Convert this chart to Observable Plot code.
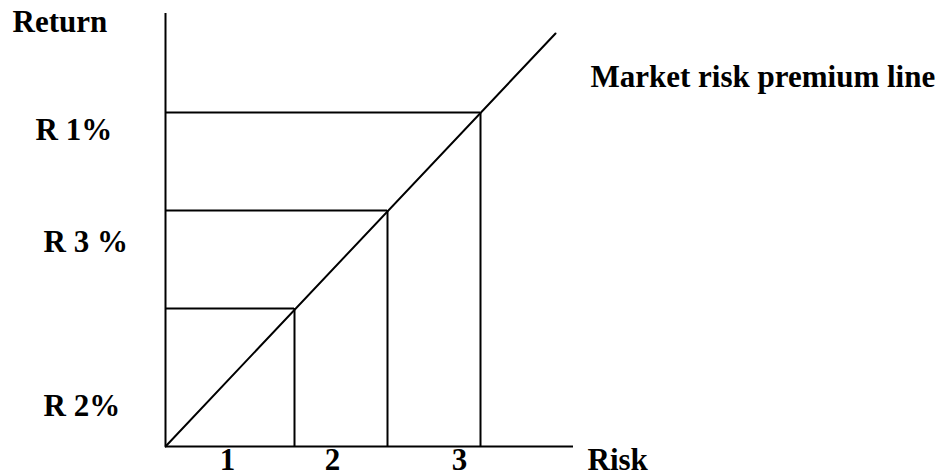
<!DOCTYPE html>
<html>
<head>
<meta charset="utf-8">
<script src="https://cdn.jsdelivr.net/npm/d3@7"></script>
<script src="https://cdn.jsdelivr.net/npm/@observablehq/plot@0.6"></script>
<style>
  html, body { margin: 0; padding: 0; background: #fff; }
  svg text { font-family: "Times New Roman", "Liberation Serif", Tinos, "DejaVu Serif", serif !important; }
</style>
</head>
<body>
<div id="chart"></div>
<script>
// Risk levels (x) and matching return levels (y) on the market risk premium line
const riskLevels = [1.29, 2.22, 3.15];
const returnLevels = [1.38, 2.36, 3.34];
const lineEndRisk = 3.90;
const lineEndReturn = 4.13;
const riskTickLabels = ["1", "2", "3"];
const riskTickValues = [0.62, 1.67, 2.94];
const returnLabels = ["R 2%", "R 3 %", "R 1%"];
const returnLabelValues = [0.31, 1.95, 3.07];
const returnLabelOffsets = [-1.22, -1.22, -1.30];

const points = riskLevels.map((r, i) => ({risk: r, ret: returnLevels[i]}));
const diag = [{risk: 0, ret: 0}, {risk: lineEndRisk, ret: lineEndReturn}];
const ticks = riskTickLabels.map((t, i) => ({label: t, risk: riskTickValues[i]}));
const rlabels = returnLabels.map((t, i) => ({label: t, ret: returnLabelValues[i], risk: returnLabelOffsets[i]}));

const font = {fontSize: 31, fontWeight: "bold", fontFamily: "Times New Roman, Liberation Serif, serif", fill: "black", lineAnchor: "bottom"};

const chart = Plot.plot({
  width: 947,
  height: 476,
  marginLeft: 165,
  marginRight: 374,
  marginTop: 13,
  marginBottom: 30,
  x: {domain: [0, 4.08], axis: null},
  y: {domain: [0, 4.33], axis: null},
  style: {background: "white", overflow: "visible"},
  marks: [
    // axes
    Plot.ruleX([0], {y1: 0, y2: 4.33, stroke: "black", strokeWidth: 2}),
    Plot.ruleY([0], {x1: 0, x2: 4.08, stroke: "black", strokeWidth: 2}),
    // horizontal guides
    Plot.ruleY(points, {y: "ret", x1: 0, x2: "risk", stroke: "black", strokeWidth: 2}),
    // vertical guides
    Plot.ruleX(points, {x: "risk", y1: 0, y2: "ret", stroke: "black", strokeWidth: 2}),
    // market risk premium line
    Plot.line(diag, {x: "risk", y: "ret", stroke: "black", strokeWidth: 2}),
    // tick labels
    Plot.text(ticks, {x: "risk", y: -0.235, text: "label", textAnchor: "middle", ...font}),
    Plot.text(rlabels, {x: "risk", y: "ret", text: "label", textAnchor: "start", ...font}),
    Plot.text(["Return"], {x: -1.53, y: 4.15, text: d => d, textAnchor: "start", ...font}),
    Plot.text(["Risk"], {x: 4.22, y: -0.23, text: d => d, textAnchor: "start", ...font}),
    Plot.text(["Market risk premium line"], {x: 4.25, y: 3.60, text: d => d, textAnchor: "start", ...font})
  ]
});
document.getElementById("chart").appendChild(chart);
</script>
</body>
</html>
